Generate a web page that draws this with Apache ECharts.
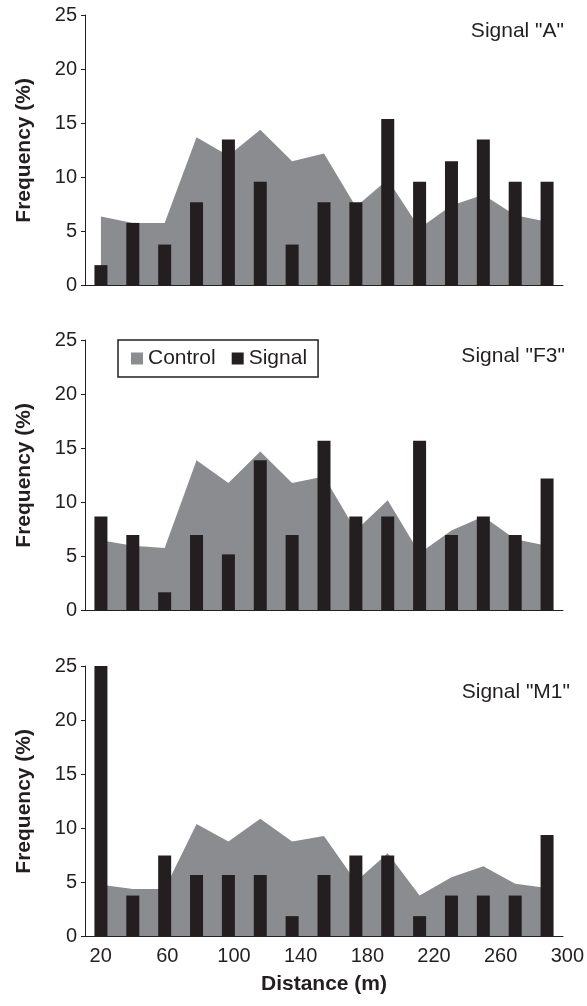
<!DOCTYPE html>
<html>
<head>
<meta charset="utf-8">
<script src="https://cdn.jsdelivr.net/npm/echarts@6/dist/echarts.min.js"></script>
<style>
  html, body { margin: 0; padding: 0; background: #fff; }
  #chart { width: 587px; height: 1006px; }
</style>
</head>
<body>
<div id="chart"></div>
<script>
// distance classes (m), one bar per class
var distances = ['20', '40', '60', '80', '100', '120', '140', '160', '180', '200', '220', '240', '260', '280', '300'];
// tick labels printed under the bottom panel
var xLabels = ['20', '60', '100', '140', '180', '220', '260', '300'];

// frequencies (%)
var controlA  = [6.4, 5.8, 5.8, 13.7, 12.0, 14.4, 11.5, 12.2, 7.3, 9.8, 5.3, 7.4, 8.4, 6.5, 5.9];
var signalA   = [1.9, 5.8, 3.8, 7.7, 13.5, 9.6, 3.8, 7.7, 7.7, 15.4, 9.6, 11.5, 13.5, 9.6, 9.6];
var controlF3 = [6.5, 6.0, 5.8, 13.9, 11.8, 14.7, 11.8, 12.4, 7.4, 10.2, 5.3, 7.4, 8.7, 6.6, 6.0];
var signalF3  = [8.7, 7.0, 1.7, 7.0, 5.2, 13.9, 7.0, 15.7, 8.7, 8.7, 15.7, 7.0, 8.7, 7.0, 12.2];
var controlM1 = [4.8, 4.4, 4.4, 10.4, 8.8, 10.9, 8.8, 9.3, 5.1, 7.7, 3.8, 5.5, 6.5, 4.9, 4.5];
var signalM1  = [25, 3.8, 7.5, 5.7, 5.7, 5.7, 1.9, 5.7, 7.5, 7.5, 1.9, 3.8, 3.8, 3.8, 9.4];

var panelNames = ['Signal "A"', 'Signal "F3"', 'Signal "M1"'];
var controls = [controlA, controlF3, controlM1];
var signals = [signalA, signalF3, signalM1];

var font = 'Liberation Sans, Arial, Helvetica, sans-serif';
var ink = '#231f20';
var grey = '#8b8c8f';
var panelTops = [15, 340, 666];
var titleTops = [21, 346, 682];
var titleRights = [23, 22, 17];

var grids = [], xAxes = [], yAxes = [], series = [], titles = [];

for (var i = 0; i < 3; i++) {
  grids.push({left: 85, width: 478, top: panelTops[i], height: 270.7});
  xAxes.push({
    type: 'category', gridIndex: i, data: distances, z: 3,
    axisLine: {lineStyle: {color: ink, width: 1}},
    axisTick: {inside: true, length: 4, interval: 0, lineStyle: {color: ink}},
    axisLabel: {show: false},
    name: i == 2 ? 'Distance (m)' : '',
    nameLocation: 'middle', nameGap: 37,
    nameTextStyle: {fontFamily: font, fontSize: 21, fontWeight: 'bold', color: ink}
  });
  yAxes.push({
    type: 'value', gridIndex: i, min: 0, max: 25, interval: 5, z: 3,
    axisLine: {show: true, lineStyle: {color: ink, width: 1}},
    axisTick: {show: true, length: 4, lineStyle: {color: ink}},
    axisLabel: {fontFamily: font, fontSize: 20, color: ink, margin: 8},
    splitLine: {show: false},
    name: 'Frequency (%)', nameLocation: 'middle', nameGap: 50,
    nameTextStyle: {fontFamily: font, fontSize: 21, fontWeight: 'bold', color: ink}
  });
  series.push({
    name: 'Control', type: 'line', xAxisIndex: i, yAxisIndex: i,
    data: controls[i], color: grey, showSymbol: false, symbol: 'none',
    lineStyle: {width: 0}, areaStyle: {color: grey, opacity: 1}, z: 1
  });
  series.push({
    name: 'Signal', type: 'bar', xAxisIndex: i, yAxisIndex: i,
    data: signals[i], barWidth: 13, itemStyle: {color: ink}, z: 2
  });
  titles.push({
    text: panelNames[i], right: titleRights[i], top: titleTops[i], padding: 0,
    textStyle: {fontFamily: font, fontSize: 21, fontWeight: 'normal', color: ink}
  });
}

// separate grid only for the printed distance labels (they do not line up with the bars)
grids.push({left: 100.7, width: 468.3, top: 666, height: 270.7});
xAxes.push({
  type: 'category', gridIndex: 3, data: xLabels, boundaryGap: false,
  axisLine: {show: false}, axisTick: {show: false},
  axisLabel: {fontFamily: font, fontSize: 20, color: ink, margin: 10, interval: 0}
});
yAxes.push({type: 'value', gridIndex: 3, show: false, min: 0, max: 25});

var chart = echarts.init(document.getElementById('chart'));
chart.setOption({
  animation: false,
  backgroundColor: '#fff',
  title: titles,
  legend: {
    left: 118, top: 340, orient: 'horizontal',
    data: [{name: 'Control', icon: 'rect', itemStyle: {color: grey}}, {name: 'Signal', icon: 'rect', itemStyle: {color: ink}}],
    itemWidth: 12, itemHeight: 12, itemGap: 16,
    padding: [8, 11, 8, 13],
    borderColor: ink, borderWidth: 1.5,
    textStyle: {fontFamily: font, fontSize: 21, color: ink},
    selectedMode: false
  },
  grid: grids,
  xAxis: xAxes,
  yAxis: yAxes,
  series: series
});
</script>
</body>
</html>
